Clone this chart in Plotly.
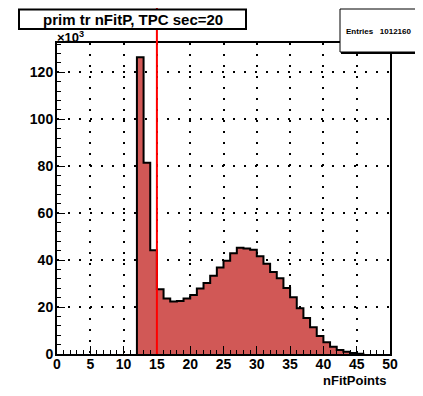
import plotly.graph_objects as go

# bin lower edges (width 1) and contents (in units of 10^3)
bin_lo = list(range(0, 50))
counts = [0]*12 + [126.4, 81.5, 44.2, 27.6, 23.6, 22.4, 22.6, 23.6, 25.1, 27.9,
                   30.2, 33.3, 36.9, 39.7, 42.9, 45.3, 45.0, 44.4, 41.6, 38.5,
                   34.9, 32.3, 28.1, 24.2, 19.5, 15.3, 11.4, 7.7, 5.0, 3.1,
                   1.7, 1.0, 0.4] + [0.1, 0.0, 0.0, 0.0, 0.0]
cut_value = 15
entries = 1012160
title_text = "prim tr nFitP, TPC sec=20"
x_title = "nFitPoints"

# step outline limited to the filled range
nz = [i for i, c in enumerate(counts) if c > 0]
i0, i1 = nz[0], nz[-1]
sx = [bin_lo[i0]] + bin_lo[i0:i1 + 1] + [bin_lo[i1] + 1, bin_lo[i1] + 1]
sy = [0] + counts[i0:i1 + 1] + [counts[i1], 0]

OFF = 8  # page body margin
W, H = 423 - OFF, 396 - OFF
L, R, T, B = 57, 390, 43, 354  # page pixel coordinates of the frame
pw, ph = R - L, B - T

def px(xp):
    return (xp - L) / pw

def py(yp):
    return (B - yp) / ph

fig = go.Figure()
fig.add_trace(go.Scatter(
    x=sx, y=sy, mode="lines", line_shape="hv",
    line=dict(color="black", width=2),
    fill="tozeroy", fillcolor="rgb(209,88,86)",
    hoverinfo="skip", showlegend=False))

font_b = dict(family="Liberation Sans", size=14, color="black", weight="bold")

axis_common = dict(
    ticks="inside", ticklen=8, tickwidth=1, tickcolor="black",
    showgrid=True, gridcolor="black", griddash="2px,9px", gridwidth=1.5,
    showline=True, linecolor="black", linewidth=2, mirror=True,
    zeroline=False, tickfont=font_b)

fig.update_layout(
    width=W, height=H,
    margin=dict(l=L - OFF, r=W - (R - OFF), t=T - OFF, b=H - (B - OFF)),
    plot_bgcolor="white", paper_bgcolor="white",
    showlegend=False,
    xaxis=dict(range=[0, 50], tickmode="array", tickvals=list(range(0, 51, 5)),
               minor=dict(ticks="inside", ticklen=4, dtick=1, tickcolor="black", showgrid=False),
               ticklabelstandoff=-4, **axis_common),
    yaxis=dict(range=[0, 132.5], tickmode="array", tickvals=list(range(0, 121, 20)),
               minor=dict(ticks="inside", ticklen=4, dtick=4, tickcolor="black", showgrid=False),
               ticklabelstandoff=-1, **axis_common),
)

shapes = []
# cut line
shapes.append(dict(type="line", xref="x", yref="paper", x0=cut_value, x1=cut_value,
                   y0=0, y1=py(OFF), line=dict(color="red", width=2), layer="above"))
# stats box with shadow
shapes.append(dict(type="rect", xref="paper", yref="paper",
                   x0=px(341), x1=px(440), y0=py(54), y1=py(OFF + 1),
                   fillcolor="black", line=dict(width=0), layer="above"))
shapes.append(dict(type="rect", xref="paper", yref="paper",
                   x0=px(340), x1=px(440), y0=py(52), y1=py(OFF + 1),
                   fillcolor="white", line=dict(color="black", width=1), layer="above"))
# title box
shapes.append(dict(type="rect", xref="paper", yref="paper",
                   x0=px(19), x1=px(246), y0=py(29), y1=py(OFF + 1.5),
                   fillcolor="white", line=dict(color="black", width=2), layer="above"))
fig.update_layout(shapes=shapes)

fig.add_annotation(xref="paper", yref="paper", x=px(344), y=py(32),
                   xanchor="left", yanchor="middle", showarrow=False,
                   text=f"Entries   {entries}",
                   font=dict(family="Liberation Sans", size=8, color="black", weight="bold"))

fig.add_annotation(xref="paper", yref="paper", x=px(132.5), y=py(19),
                   xanchor="center", yanchor="middle", showarrow=False,
                   text=title_text,
                   font=dict(family="Liberation Sans", size=15, color="black", weight="bold"))

fig.add_annotation(xref="paper", yref="paper", x=px(55), y=py(37),
                   xanchor="left", yanchor="middle", showarrow=False,
                   text="×10<sup>3</sup>",
                   font=dict(family="Liberation Sans", size=13, color="black", weight="bold"))

fig.add_annotation(xref="paper", yref="paper", x=px(389), y=py(380),
                   xanchor="right", yanchor="middle", showarrow=False,
                   text=x_title,
                   font=dict(family="Liberation Sans", size=13, color="black", weight="bold"))

fig.write_html("out.html")
